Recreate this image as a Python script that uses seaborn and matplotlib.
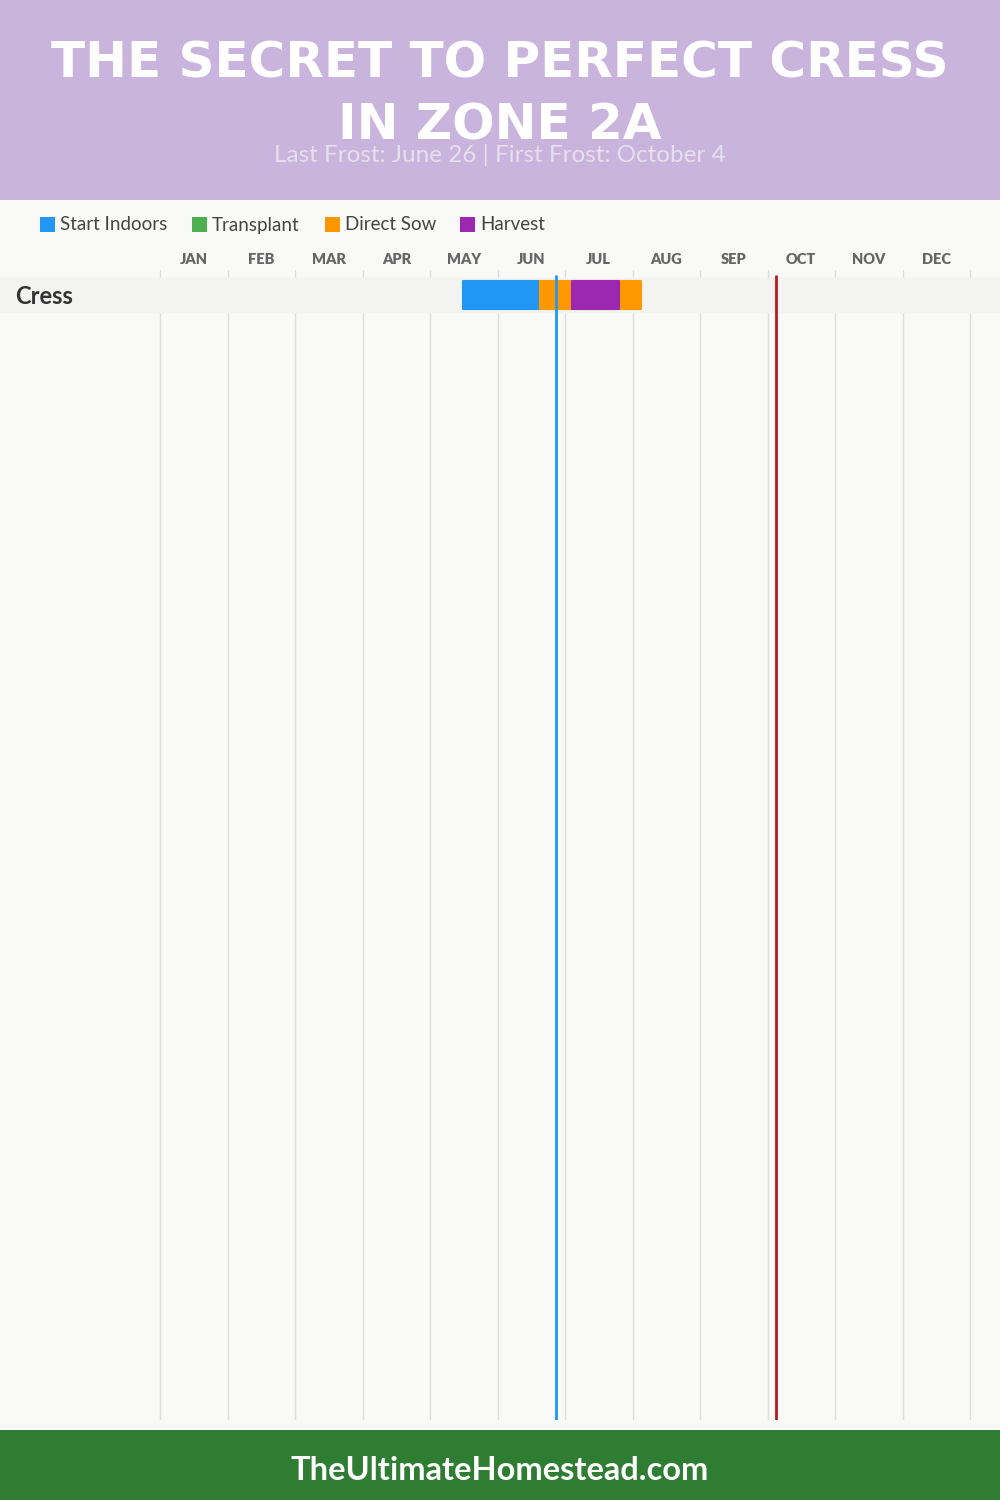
import matplotlib
matplotlib.use("Agg")
import matplotlib.pyplot as plt
import seaborn as sns
import pandas as pd
from matplotlib.patches import Rectangle

# ---------------- data ----------------
months = ["JAN", "FEB", "MAR", "APR", "MAY", "JUN", "JUL", "AUG", "SEP", "OCT", "NOV", "DEC"]
days_in_month = [31, 28, 31, 30, 31, 30, 31, 31, 30, 31, 30, 31]
crops = ["Cress"]
phase_names = ["Start Indoors", "Transplant", "Direct Sow", "Harvest"]
phase_colors = ["#2196F3", "#4CAF50", "#FF9800", "#9C27B0"]
# (crop, phase, start (month, day), end (month, day))
bar_crop = ["Cress", "Cress", "Cress"]
bar_phase = ["Start Indoors", "Direct Sow", "Harvest"]
bar_start = [(5, 15), (6, 19), (7, 3)]
bar_end = [(6, 19), (8, 4), (7, 25)]
last_frost = (6, 26)
first_frost = (10, 4)
title_lines = ["THE SECRET TO PERFECT CRESS", "IN ZONE 2A"]
subtitle = "Last Frost: June 26 | First Frost: October 4"
footer = "TheUltimateHomestead.com"


def mpos(md):
    m, d = md
    return (m - 1) + d / days_in_month[m - 1]


df = pd.DataFrame({
    "crop": bar_crop,
    "phase": bar_phase,
    "start": [mpos(s) for s in bar_start],
    "end": [mpos(e) for e in bar_end],
})

sns.set_theme(style="white")
plt.rcParams["font.family"] = ["Lato", "DejaVu Sans"]

W, H = 1000, 1500
fig = plt.figure(figsize=(10, 15), dpi=100)
fig.patch.set_facecolor("#F9F9F7")

# header / footer bands
fig.patches.append(Rectangle((0, 1 - 200 / H), 1, 200 / H, transform=fig.transFigure,
                             facecolor="#C8B4DC", edgecolor="none", zorder=0))
fig.patches.append(Rectangle((0, 0), 1, 70 / H, transform=fig.transFigure,
                             facecolor="#2E7D32", edgecolor="none", zorder=0))

for txt, yc in zip(title_lines, [63, 125]):
    fig.text(0.5, 1 - yc / H, txt, ha="center", va="center", color="white",
             fontsize=36, fontweight="bold", family=["DejaVu Sans"])
fig.text(0.5, 1 - 155 / H, subtitle, ha="center", va="center", color="#E6E0EC",
         fontsize=17.5)
fig.text(0.5, 1 - 1471 / H, footer, ha="center", va="center", color="white",
         fontsize=23.5, fontweight="bold")

# main axes: full width, y from 270px to 1420px
ax_top, ax_bot = 270, 1420
ax = fig.add_axes([0, 1 - ax_bot / H, 1, (ax_bot - ax_top) / H])
ax.set_facecolor("none")
px_per_month = (970 - 160) / 12
ax.set_xlim(-160 / px_per_month, 12 + 30 / px_per_month)
row_px = 34
row_center = 295
ax.set_ylim((ax_bot - row_center) / row_px, (ax_top - row_center) / row_px)
for s in ax.spines.values():
    s.set_visible(False)
ax.set_xticks([])
ax.set_yticks([])

# month grid
for i in range(13):
    ax.axvline(i, color="#DDDDDD", lw=1, zorder=1)
for i, m in enumerate(months):
    ax.text(i + 0.5, (259 - row_center) / row_px, m, ha="center", va="center",
            fontsize=10.5, fontweight="heavy", color="#666666", clip_on=False)

# row bands
for r, crop in enumerate(crops):
    ax.axhspan(r - 0.5, r + 0.5, color="#F3F3F2", zorder=2)
    ax.text(-160 / px_per_month + 15 / px_per_month, r + 0.04, crop, ha="left", va="center",
            fontsize=17, fontweight="bold", color="#333333", zorder=5)

# bars
color_map = dict(zip(phase_names, phase_colors))
row_map = {c: i for i, c in enumerate(crops)}
for _, b in df.iterrows():
    ax.barh(row_map[b["crop"]], b["end"] - b["start"], left=b["start"], height=0.8,
            color=color_map[b["phase"]], edgecolor=color_map[b["phase"]], lw=1.5,
            joinstyle="round", zorder=3)

# frost lines
ytop_line = (275 - row_center) / row_px
ybot_line = (ax_bot - row_center) / row_px
ax.vlines(mpos(last_frost), ytop_line, ybot_line, color="#2196F3", lw=2, zorder=4)
ax.vlines(mpos(first_frost), ytop_line, ybot_line, color="#B71C1C", lw=2, zorder=4)

# legend
leg_x = [40, 192, 325, 460]
for x, name, col in zip(leg_x, phase_names, phase_colors):
    fig.patches.append(Rectangle((x / W, 1 - 232 / H), 15 / W, 15 / H,
                                 transform=fig.transFigure, facecolor=col,
                                 edgecolor="none"))
    fig.text((x + 20) / W, 1 - 225 / H, name, ha="left", va="center",
             fontsize=13.5, color="#444444")

fig.savefig("out.png", dpi=100, facecolor=fig.get_facecolor())
